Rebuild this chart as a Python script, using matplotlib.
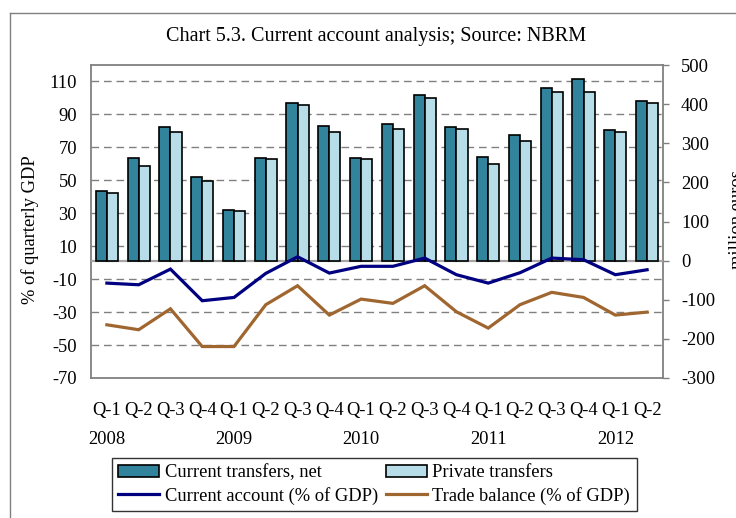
import matplotlib
matplotlib.use("Agg")
import matplotlib.pyplot as plt
from matplotlib.lines import Line2D
from matplotlib.patches import Patch
import numpy as np

# ---- data ----
quarters = ["Q-1", "Q-2", "Q-3", "Q-4"] * 4 + ["Q-1", "Q-2"]
years = ["2008", "2009", "2010", "2011", "2012"]
current_transfers = [179, 262, 341, 213, 129, 262, 403, 345, 262, 350, 424, 341,
                     266, 320, 440, 465, 333, 408]
private_transfers = [172, 242, 329, 204, 126, 259, 398, 329, 259, 337, 416, 337,
                     246, 305, 432, 432, 329, 404]
current_account = [-12.4, -13.4, -3.9, -23.1, -21.1, -6.5, 3.6, -6.3, -2.2, -2.2,
                   2.8, -7.3, -12.4, -6.1, 2.8, 1.8, -7.3, -4.3]
trade_balance = [-37.7, -40.7, -28.0, -50.9, -50.9, -25.5, -14.0, -31.8, -22.1, -24.7,
                 -14.0, -29.8, -39.7, -25.5, -18.0, -21.1, -31.8, -30.0]
left_ticks = [-70, -50, -30, -10, 10, 30, 50, 70, 90, 110]
right_ticks = [-300, -200, -100, 0, 100, 200, 300, 400, 500]

FONT = ["Liberation Serif", "DejaVu Serif"]
plt.rcParams['font.family'] = FONT
FS = 13.3
DARK = "#31849B"
LIGHT = "#B7DEE8"
BLUE = "#000080"
BROWN = "#A0662F"
GRAY = "#808080"

W, H = 736, 518
fig = plt.figure(figsize=(W / 100, H / 100), dpi=100)

def fx(px):
    return px / W

def fy(py):
    return 1 - py / H

# outer chart frame
fig.add_artist(Line2D([fx(10), fx(10)], [fy(13), 0], color=GRAY, lw=1.0, transform=fig.transFigure))
fig.add_artist(Line2D([fx(10), 1], [fy(13), fy(13)], color=GRAY, lw=1.0, transform=fig.transFigure))

left, right, top, bottom = 91, 663, 65, 378
ax = fig.add_axes([fx(left), fy(bottom), fx(right - left), (bottom - top) / H])
ax2 = ax.twinx()
ax3 = ax.twinx()

x = np.arange(len(quarters))
n = len(quarters)

# base axis: left scale + gridlines
ax.set_ylim(-70, 120)
ax.set_xlim(-0.5, n - 0.5)
ax.set_yticks(left_ticks)
ax.set_yticklabels([str(v) for v in left_ticks], fontsize=FS)
ax.tick_params(axis='y', length=0, pad=10)
for v in left_ticks[1:]:
    ax.axhline(v, color=GRAY, lw=1.0, linestyle=(0, (5.5, 3.5)), zorder=0)
for s in ax.spines.values():
    s.set_color(GRAY)
    s.set_linewidth(1.3)

# x labels
ax.set_xticks(x)
ax.set_xticklabels(quarters, fontsize=FS)
year_pos = [i for i, q in enumerate(quarters) if q == "Q-1"]
ax.xaxis.remove_overlapping_locs = False
ax.set_xticks(year_pos, minor=True)
ax.set_xticklabels(years, minor=True, fontsize=FS)
ax.tick_params(axis='x', which='major', length=0, pad=17.5)
ax.tick_params(axis='x', which='minor', length=0, pad=38)

# bars on right scale
ax2.set_ylim(-300, 500)
ax2.set_yticks(right_ticks)
ax2.set_yticklabels([str(v) for v in right_ticks], fontsize=FS)
ax2.tick_params(axis='y', length=4, width=1, color=GRAY, direction='out', pad=9)
ax2.axhline(0, color="#A6A6A6", lw=1.6, zorder=1)
bw = 0.35
ax2.bar(x - bw / 2, current_transfers, width=bw, color=DARK, edgecolor="black", linewidth=1.2, zorder=2)
ax2.bar(x + bw / 2, private_transfers, width=bw, color=LIGHT, edgecolor="black", linewidth=1.2, zorder=2)
for s in ax2.spines.values():
    s.set_visible(False)

# lines on left scale (top layer)
ax3.set_ylim(ax.get_ylim())
ax3.plot(x, current_account, color=BLUE, lw=2.3, solid_joinstyle='miter')
ax3.plot(x, trade_balance, color=BROWN, lw=2.3, solid_joinstyle='miter')
ax3.set_yticks([])
for s in ax3.spines.values():
    s.set_visible(False)

# axis titles
fig.text(fx(30), fy(230), "% of quarterly GDP", rotation=90, ha='center', va='center', fontsize=FS)
fig.text(fx(729), fy(220), "million euros", rotation=90, ha='left', va='center', fontsize=FS)
fig.text(fx(376), fy(37), "Chart 5.3. Current account analysis; Source: NBRM", ha='center', va='center', fontsize=14.5)

# legend
handles = [
    Patch(facecolor=DARK, edgecolor="black", linewidth=1.2),
    Line2D([], [], color=BLUE, lw=2.3),
    Patch(facecolor=LIGHT, edgecolor="black", linewidth=1.2),
    Line2D([], [], color=BROWN, lw=2.3),
]
labels = ["Current transfers, net", "Current account (% of GDP)",
          "Private transfers", "Trade balance (% of GDP)"]
leg = fig.legend(handles, labels, ncol=2, loc='upper left',
                 bbox_to_anchor=(fx(112), fy(458)), fontsize=FS,
                 frameon=True, fancybox=False, shadow=False, edgecolor="black",
                 handlelength=2.2, handleheight=0.7, handletextpad=0.3,
                 columnspacing=0.45, labelspacing=0.3, borderpad=0.35, borderaxespad=0)
leg.get_frame().set_linewidth(1.0)

fig.savefig("out.png", dpi=100)
